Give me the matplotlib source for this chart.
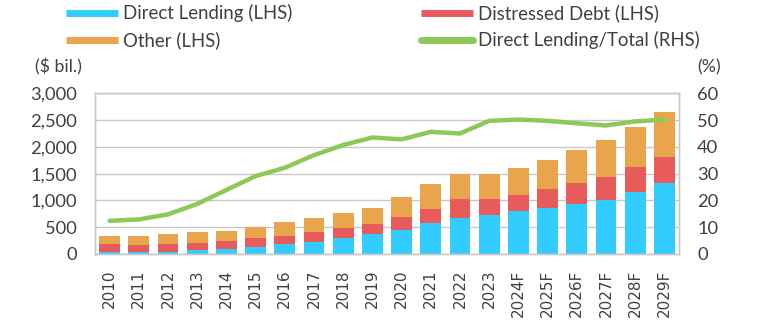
import matplotlib
matplotlib.use('Agg')
import matplotlib.pyplot as plt
from matplotlib.lines import Line2D
import numpy as np

years = ['2010', '2011', '2012', '2013', '2014', '2015', '2016', '2017', '2018', '2019',
         '2020', '2021', '2022', '2023', '2024F', '2025F', '2026F', '2027F', '2028F', '2029F']
# $ bil., stacked
direct_lending = [35, 35, 45, 68, 93, 137, 187, 230, 305, 367,
                  454, 579, 666, 734, 797, 865, 933, 1008, 1163, 1319]
distressed_debt = [152, 140, 142, 143, 144, 156, 149, 174, 174, 187,
                   243, 261, 367, 287, 310, 342, 386, 423, 455, 491]
other = [155, 168, 186, 193, 198, 205, 255, 268, 293, 311,
         373, 460, 467, 473, 504, 548, 623, 697, 753, 835]
# %, right axis
dl_share = [12.4, 12.9, 14.8, 18.7, 23.9, 29.1, 32.2, 36.9, 40.7, 43.5,
            42.8, 45.6, 45.0, 49.7, 50.2, 49.7, 48.8, 48.0, 49.5, 50.2]

BLUE = '#33CCFF'
RED = '#E85B5B'
ORANGE = '#E8A54C'
GREEN = '#8CC957'
TXT = '#404040'
GRID = '#C8C8C8'

fig = plt.figure(figsize=(7.78, 3.27), dpi=100)
ax = fig.add_axes([95/778, 73/327, 584/778, 160.7/327])
ax2 = ax.twinx()

x = np.arange(len(years))
w = 0.71
bottom2 = np.array(direct_lending)
bottom3 = bottom2 + np.array(distressed_debt)
ax.bar(x, direct_lending, w, color=BLUE, zorder=2)
ax.bar(x, distressed_debt, w, bottom=bottom2, color=RED, zorder=2)
ax.bar(x, other, w, bottom=bottom3, color=ORANGE, zorder=2)
ax2.plot(x, dl_share, color=GREEN, lw=3.2, solid_capstyle='round', solid_joinstyle='round')

ax.set_xlim(-0.5, 19.5)
ax.set_ylim(0, 3000)
ax.set_yticks(range(0, 3001, 500))
ax.set_yticklabels([f'{v:,}' for v in range(0, 3001, 500)])
ax2.set_ylim(0, 60)
ax2.set_yticks(range(0, 61, 10))
ax.grid(axis='y', color=GRID, lw=1, zorder=0)
ax.set_axisbelow(True)

for a in (ax, ax2):
    for s in a.spines.values():
        s.set_color(GRID)
        s.set_linewidth(1)
    a.tick_params(length=0)
ax.tick_params(axis='y', pad=13, labelsize=13.2, labelcolor=TXT)
ax2.tick_params(axis='y', pad=13, labelsize=13.2, labelcolor=TXT)
for lab in ax.get_yticklabels() + ax2.get_yticklabels():
    lab.set_fontfamily('Lato')
ax.set_xticks(x)
ax.set_xticklabels(years, rotation=90, fontsize=11, color=TXT, family='DejaVu Sans')
ax.tick_params(axis='x', pad=11)

handles = [Line2D([0], [0], color=BLUE, lw=5, solid_capstyle='butt'),
           Line2D([0], [0], color=ORANGE, lw=5, solid_capstyle='butt'),
           Line2D([0], [0], color=RED, lw=5, solid_capstyle='butt'),
           Line2D([0], [0], color=GREEN, lw=5, solid_capstyle='round')]
labels = ['Direct Lending (LHS)', 'Other (LHS)', 'Distressed Debt (LHS)', 'Direct Lending/Total (RHS)']
fig.legend(handles, labels, ncol=2, loc='upper left', bbox_to_anchor=(66/778, 1 - 4/327),
           frameon=False, borderpad=0, borderaxespad=0, handlelength=2.8, handletextpad=0.27,
           columnspacing=6.9, labelspacing=0.5, prop={'family': 'Lato', 'size': 13.4},
           labelcolor=TXT)

fig.text(35/778, 1 - 67/327, '($ bil.)', family='Lato', fontsize=12.8, color=TXT, va='center', ha='left')
fig.text(709/778, 1 - 67/327, '(%)', family='Lato', fontsize=12.8, color=TXT, va='center', ha='center')

fig.savefig('out.png', dpi=100)
